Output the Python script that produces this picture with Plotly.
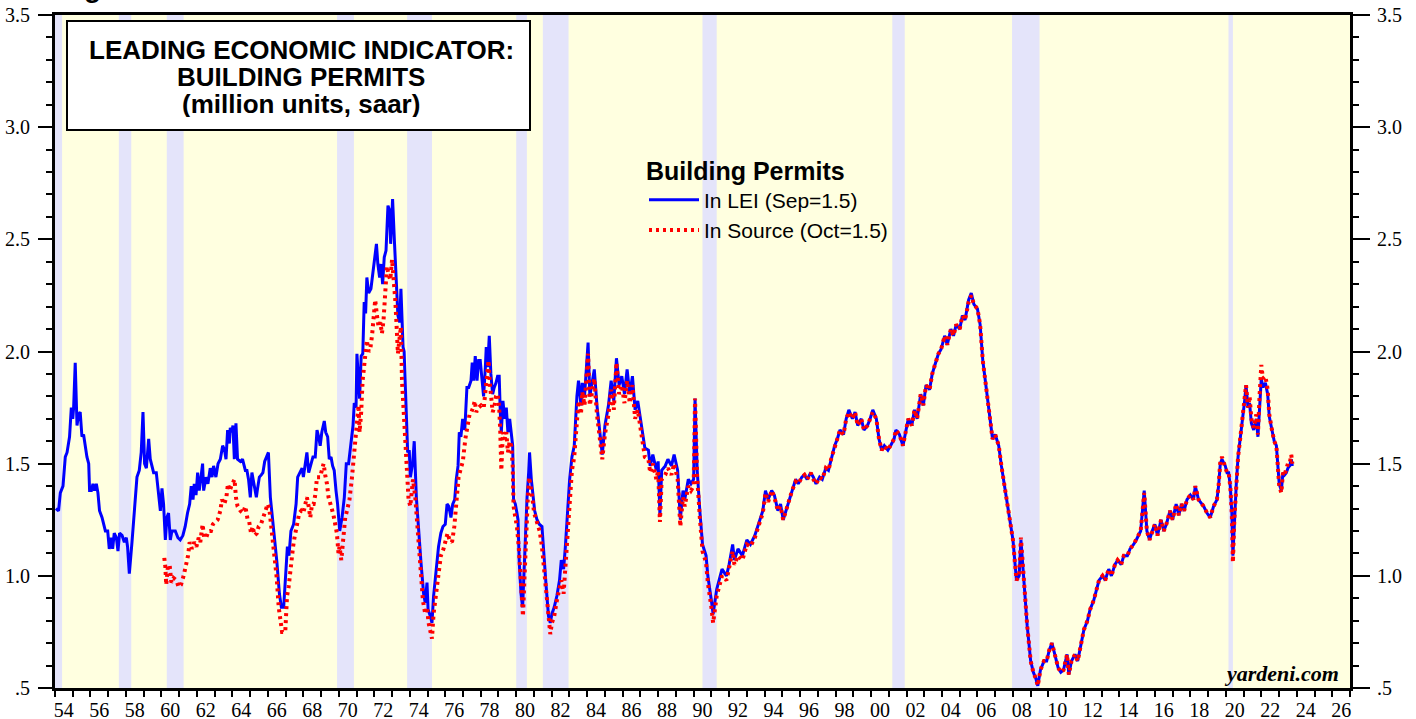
import plotly.graph_objects as go

# ---------------- DATA ----------------
# Building permits, "In LEI" series, 1954-1983 (decimal years, million units saar)
lei_dates_a = [1954.05, 1954.2, 1954.3, 1954.45, 1954.58, 1954.68, 1954.82, 1954.92, 1955.0, 1955.05,
    1955.14, 1955.24, 1955.33, 1955.42, 1955.52, 1955.61, 1955.8, 1955.9, 1955.95, 1956.05,
    1956.14, 1956.23, 1956.33, 1956.42, 1956.51, 1956.65, 1956.84, 1956.97, 1957.06, 1957.16,
    1957.25, 1957.34, 1957.46, 1957.55, 1957.64, 1957.78, 1957.91, 1958.02, 1958.09, 1958.19,
    1958.34, 1958.49, 1958.62, 1958.75, 1958.86, 1958.96, 1959.05, 1959.15, 1959.28, 1959.37,
    1959.56, 1959.71, 1959.84, 1959.94, 1960.03, 1960.12, 1960.22, 1960.31, 1960.4, 1960.5,
    1960.59, 1960.78, 1960.93, 1961.06, 1961.21, 1961.34, 1961.47, 1961.59, 1961.68, 1961.78,
    1961.85, 1961.95, 1962.04, 1962.13, 1962.23, 1962.32, 1962.38, 1962.51, 1962.62, 1962.75,
    1962.85, 1962.94, 1963.07, 1963.19, 1963.32, 1963.45, 1963.56, 1963.64, 1963.73, 1963.83,
    1963.88, 1963.97, 1964.03, 1964.11, 1964.2, 1964.29, 1964.45, 1964.57, 1964.73, 1964.82,
    1964.91, 1965.01, 1965.1, 1965.23, 1965.35, 1965.42, 1965.52, 1965.63, 1965.72, 1965.82,
    1965.95, 1966.03, 1966.14, 1966.27, 1966.38, 1966.51, 1966.65, 1966.76, 1966.89, 1966.98,
    1967.1, 1967.19, 1967.3, 1967.45, 1967.59, 1967.68, 1967.79, 1967.93, 1968.0, 1968.11,
    1968.2, 1968.3, 1968.42, 1968.54, 1968.67, 1968.77, 1968.86, 1968.95, 1969.04, 1969.18,
    1969.26, 1969.37, 1969.46, 1969.56, 1969.65, 1969.74, 1969.84, 1969.93, 1970.05, 1970.18,
    1970.31, 1970.42, 1970.55, 1970.69, 1970.8, 1970.87, 1970.97, 1971.02, 1971.1, 1971.17,
    1971.26, 1971.35, 1971.43, 1971.51, 1971.58, 1971.68, 1971.81, 1971.93, 1972.02, 1972.12,
    1972.2, 1972.3, 1972.38, 1972.47, 1972.56, 1972.66, 1972.77, 1972.86, 1972.92, 1973.03,
    1973.14, 1973.24, 1973.33, 1973.43, 1973.5, 1973.62, 1973.68, 1973.8, 1973.88, 1973.97,
    1974.03, 1974.16, 1974.25, 1974.37, 1974.5, 1974.63, 1974.78, 1974.87, 1974.97, 1975.03,
    1975.16, 1975.25, 1975.34, 1975.49, 1975.62, 1975.75, 1975.87, 1976.0, 1976.1, 1976.2,
    1976.32, 1976.42, 1976.53, 1976.62, 1976.72, 1976.79, 1976.88, 1976.98, 1977.1, 1977.22,
    1977.32, 1977.45, 1977.52, 1977.6, 1977.69, 1977.79, 1977.88, 1977.97, 1978.07, 1978.16,
    1978.26, 1978.31, 1978.39, 1978.48, 1978.57, 1978.67, 1978.76, 1978.86, 1978.95, 1979.04,
    1979.1, 1979.16, 1979.25, 1979.35, 1979.44, 1979.53, 1979.63, 1979.72, 1979.8, 1979.85,
    1979.95, 1980.04, 1980.1, 1980.17, 1980.27, 1980.36, 1980.42, 1980.52, 1980.61, 1980.7,
    1980.75, 1980.85, 1980.94, 1981.04, 1981.17, 1981.3, 1981.45, 1981.54, 1981.69, 1981.82,
    1981.92, 1982.01, 1982.14, 1982.29, 1982.44, 1982.54, 1982.67, 1982.77, 1982.9, 1983.01,
    1983.14, 1983.27, 1983.42, 1983.51]
lei_vals_a = [1.30, 1.29, 1.37, 1.40, 1.53, 1.55, 1.62, 1.75, 1.70, 1.75,
    1.95, 1.67, 1.72, 1.73, 1.62, 1.63, 1.53, 1.50, 1.38, 1.38,
    1.41, 1.38, 1.41, 1.37, 1.29, 1.26, 1.20, 1.20, 1.12, 1.17,
    1.12, 1.19, 1.17, 1.11, 1.19, 1.18, 1.15, 1.17, 1.13, 1.01,
    1.15, 1.31, 1.44, 1.47, 1.55, 1.73, 1.50, 1.48, 1.61, 1.52,
    1.46, 1.46, 1.37, 1.29, 1.39, 1.32, 1.16, 1.26, 1.28, 1.16,
    1.20, 1.20, 1.17, 1.16, 1.18, 1.22, 1.28, 1.32, 1.40, 1.34,
    1.41, 1.36, 1.46, 1.38, 1.44, 1.50, 1.38, 1.44, 1.41, 1.48,
    1.44, 1.49, 1.44, 1.50, 1.52, 1.58, 1.56, 1.52, 1.65, 1.59,
    1.66, 1.64, 1.67, 1.52, 1.68, 1.52, 1.51, 1.52, 1.47, 1.47,
    1.43, 1.35, 1.46, 1.40, 1.35, 1.39, 1.44, 1.45, 1.46, 1.51,
    1.54, 1.55, 1.35, 1.25, 1.15, 1.06, 0.92, 0.86, 0.86, 0.97,
    1.13, 1.09, 1.20, 1.23, 1.32, 1.44, 1.46, 1.48, 1.44, 1.50,
    1.55, 1.46, 1.49, 1.53, 1.53, 1.65, 1.62, 1.58, 1.64, 1.69,
    1.64, 1.62, 1.52, 1.53, 1.49, 1.47, 1.38, 1.32, 1.20, 1.26,
    1.35, 1.50, 1.50, 1.61, 1.67, 1.77, 1.75, 1.99, 1.90, 1.79,
    1.98, 1.99, 2.22, 2.17, 2.33, 2.26, 2.28, 2.36, 2.41, 2.48,
    2.39, 2.33, 2.39, 2.30, 2.42, 2.45, 2.65, 2.63, 2.48, 2.68,
    2.48, 2.28, 2.16, 2.13, 2.28, 2.02, 2.00, 1.73, 1.55, 1.56,
    1.44, 1.50, 1.60, 1.35, 1.19, 1.06, 0.92, 0.88, 0.97, 0.85,
    0.82, 0.79, 0.91, 1.03, 1.13, 1.19, 1.22, 1.23, 1.32, 1.31,
    1.26, 1.32, 1.34, 1.43, 1.49, 1.64, 1.62, 1.70, 1.65, 1.84,
    1.84, 1.87, 1.95, 1.87, 1.98, 1.87, 1.96, 1.96, 1.86, 1.80,
    1.93, 2.02, 1.93, 2.07, 1.90, 1.81, 1.84, 1.86, 1.89, 1.89,
    1.73, 1.64, 1.78, 1.70, 1.75, 1.64, 1.70, 1.64, 1.58, 1.34,
    1.32, 1.28, 1.25, 1.06, 0.92, 0.86, 0.98, 1.19, 1.35, 1.46,
    1.55, 1.43, 1.35, 1.29, 1.25, 1.23, 1.22, 1.10, 0.95, 0.82,
    0.79, 0.83, 0.86, 0.91, 0.98, 1.07, 1.03, 1.13, 1.28, 1.43,
    1.53, 1.58, 1.80, 1.87]

# "In Source" series, 1960-1983
src_dates_a = [1960.16, 1960.22, 1960.27, 1960.35, 1960.46, 1960.56, 1960.69, 1960.84, 1960.97, 1961.1,
    1961.25, 1961.38, 1961.5, 1961.59, 1961.72, 1961.85, 1961.97, 1962.1, 1962.19, 1962.32,
    1962.41, 1962.52, 1962.66, 1962.79, 1962.9, 1963.03, 1963.17, 1963.32, 1963.41, 1963.54,
    1963.66, 1963.75, 1963.85, 1963.94, 1964.03, 1964.12, 1964.2, 1964.29, 1964.45, 1964.6,
    1964.73, 1964.86, 1964.95, 1965.05, 1965.14, 1965.25, 1965.38, 1965.48, 1965.61, 1965.73,
    1965.86, 1965.99, 1966.08, 1966.17, 1966.27, 1966.38, 1966.5, 1966.61, 1966.7, 1966.8,
    1966.98, 1967.08, 1967.17, 1967.3, 1967.42, 1967.5, 1967.64, 1967.77, 1967.88, 1968.0,
    1968.11, 1968.2, 1968.3, 1968.39, 1968.49, 1968.58, 1968.67, 1968.77, 1968.86, 1968.95,
    1969.04, 1969.14, 1969.23, 1969.33, 1969.42, 1969.51, 1969.6, 1969.7, 1969.79, 1969.89,
    1969.98, 1970.04, 1970.14, 1970.27, 1970.36, 1970.46, 1970.6, 1970.73, 1970.83, 1970.92,
    1971.02, 1971.11, 1971.17, 1971.26, 1971.34, 1971.4, 1971.49, 1971.58, 1971.68, 1971.77,
    1971.87, 1971.96, 1972.05, 1972.15, 1972.24, 1972.34, 1972.43, 1972.52, 1972.62, 1972.71,
    1972.81, 1972.9, 1973.0, 1973.09, 1973.18, 1973.24, 1973.33, 1973.41, 1973.5, 1973.56,
    1973.65, 1973.75, 1973.84, 1973.93, 1974.03, 1974.18, 1974.31, 1974.4, 1974.5, 1974.59,
    1974.74, 1974.87, 1974.97, 1975.06, 1975.16, 1975.25, 1975.34, 1975.49, 1975.62, 1975.75,
    1975.9, 1976.04, 1976.13, 1976.24, 1976.38, 1976.51, 1976.62, 1976.75, 1976.88, 1976.99,
    1977.13, 1977.26, 1977.37, 1977.47, 1977.57, 1977.66, 1977.75, 1977.88, 1978.02, 1978.17,
    1978.26, 1978.35, 1978.44, 1978.5, 1978.57, 1978.67, 1978.76, 1978.86, 1978.95, 1979.04,
    1979.1, 1979.16, 1979.25, 1979.35, 1979.44, 1979.53, 1979.63, 1979.72, 1979.8, 1979.85,
    1979.95, 1980.04, 1980.14, 1980.23, 1980.32, 1980.38, 1980.46, 1980.55, 1980.65, 1980.73,
    1980.82, 1980.92, 1981.01, 1981.17, 1981.32, 1981.45, 1981.58, 1981.73, 1981.82, 1981.92,
    1982.01, 1982.14, 1982.29, 1982.44, 1982.54, 1982.67, 1982.77, 1982.9, 1983.01, 1983.14,
    1983.27, 1983.42, 1983.51]
src_vals_a = [1.08, 1.04, 0.96, 1.03, 1.05, 0.97, 0.99, 0.98, 0.95, 0.96,
    1.00, 1.04, 1.09, 1.15, 1.12, 1.15, 1.13, 1.17, 1.15, 1.23,
    1.17, 1.17, 1.20, 1.20, 1.23, 1.24, 1.25, 1.29, 1.34, 1.32,
    1.35, 1.41, 1.38, 1.40, 1.42, 1.43, 1.35, 1.31, 1.29, 1.28,
    1.31, 1.25, 1.24, 1.19, 1.22, 1.18, 1.19, 1.22, 1.23, 1.26,
    1.30, 1.32, 1.30, 1.23, 1.17, 1.09, 0.99, 0.86, 0.79, 0.75,
    0.75, 0.91, 0.95, 1.06, 1.13, 1.17, 1.23, 1.28, 1.29, 1.28,
    1.32, 1.35, 1.31, 1.26, 1.32, 1.32, 1.36, 1.44, 1.44, 1.44,
    1.47, 1.50, 1.45, 1.41, 1.35, 1.33, 1.30, 1.27, 1.23, 1.19,
    1.10, 1.13, 1.07, 1.16, 1.26, 1.29, 1.34, 1.43, 1.53, 1.58,
    1.70, 1.76, 1.64, 1.73, 1.87, 1.92, 1.96, 2.05, 2.00, 2.01,
    2.07, 2.14, 2.23, 2.16, 2.11, 2.13, 2.08, 2.14, 2.26, 2.38,
    2.34, 2.32, 2.41, 2.34, 2.23, 2.14, 1.99, 2.05, 2.11, 1.87,
    1.73, 1.58, 1.43, 1.34, 1.31, 1.43, 1.35, 1.25, 1.13, 1.01,
    0.89, 0.83, 0.86, 0.79, 0.74, 0.72, 0.83, 0.94, 1.01, 1.09,
    1.12, 1.16, 1.19, 1.16, 1.15, 1.22, 1.31, 1.44, 1.48, 1.51,
    1.61, 1.67, 1.72, 1.73, 1.75, 1.78, 1.73, 1.75, 1.76, 1.75,
    1.83, 1.93, 1.96, 1.87, 1.80, 1.73, 1.75, 1.80, 1.81, 1.75,
    1.64, 1.47, 1.64, 1.61, 1.64, 1.55, 1.60, 1.58, 1.49, 1.31,
    1.26, 1.22, 1.13, 0.98, 0.86, 0.82, 0.98, 1.19, 1.34, 1.44,
    1.40, 1.34, 1.28, 1.23, 1.20, 1.13, 1.01, 0.89, 0.80, 0.74,
    0.79, 0.82, 0.89, 0.94, 0.98, 0.92, 1.04, 1.20, 1.35, 1.47,
    1.53, 1.73, 1.78]

# 1983-2023: shared dates, separate values for both series
dates_b = [1983.65, 1983.72, 1983.85, 1983.95, 1984.05, 1984.15, 1984.3, 1984.4, 1984.55, 1984.7,
    1984.85, 1985.0, 1985.2, 1985.35, 1985.5, 1985.65, 1985.8, 1985.95, 1986.1, 1986.25,
    1986.4, 1986.55, 1986.7, 1986.85, 1987.0, 1987.25, 1987.45, 1987.55, 1987.7, 1987.9,
    1988.0, 1988.1, 1988.2, 1988.4, 1988.55, 1988.75, 1988.9, 1989.1, 1989.25, 1989.4,
    1989.5, 1989.7, 1989.85, 1990.0, 1990.08, 1990.2, 1990.35, 1990.5, 1990.7, 1990.8,
    1991.0, 1991.1, 1991.3, 1991.45, 1991.6, 1991.85, 1992.0, 1992.2, 1992.3, 1992.5,
    1992.75, 1993.0, 1993.2, 1993.45, 1993.65, 1993.9, 1994.05, 1994.2, 1994.4, 1994.55,
    1994.75, 1994.9, 1995.05, 1995.2, 1995.4, 1995.55, 1995.75, 1995.9, 1996.1, 1996.25,
    1996.4, 1996.6, 1996.75, 1996.9, 1997.1, 1997.25, 1997.45, 1997.6, 1997.75, 1997.95,
    1998.1, 1998.25, 1998.45, 1998.6, 1998.75, 1998.95, 1999.1, 1999.25, 1999.45, 1999.6,
    1999.8, 1999.95, 2000.1, 2000.3, 2000.45, 2000.6, 2000.75, 2000.95, 2001.1, 2001.3,
    2001.4, 2001.6, 2001.8, 2001.95, 2002.1, 2002.3, 2002.45, 2002.6, 2002.8, 2002.95,
    2003.1, 2003.3, 2003.45, 2003.6, 2003.8, 2003.95, 2004.15, 2004.3, 2004.5, 2004.65,
    2004.8, 2005.0, 2005.15, 2005.3, 2005.5, 2005.65, 2005.8, 2006.0, 2006.15, 2006.3,
    2006.5, 2006.7, 2006.85, 2007.0, 2007.2, 2007.35, 2007.5, 2007.7, 2007.85, 2008.0,
    2008.2, 2008.35, 2008.45, 2008.65, 2008.8, 2009.0, 2009.15, 2009.3, 2009.4, 2009.55,
    2009.75, 2009.9, 2010.05, 2010.2, 2010.35, 2010.55, 2010.7, 2010.85, 2011.05, 2011.15,
    2011.3, 2011.5, 2011.65, 2011.85, 2012.0, 2012.2, 2012.35, 2012.55, 2012.7, 2012.85,
    2013.05, 2013.2, 2013.4, 2013.55, 2013.75, 2013.9, 2014.1, 2014.25, 2014.45, 2014.6,
    2014.8, 2014.95, 2015.2, 2015.4, 2015.55, 2015.7, 2015.85, 2016.0, 2016.15, 2016.35,
    2016.5, 2016.65, 2016.85, 2017.0, 2017.2, 2017.35, 2017.5, 2017.65, 2017.81, 2018.0,
    2018.18, 2018.28, 2018.46, 2018.75, 2018.94, 2019.12, 2019.31, 2019.5, 2019.59, 2019.69,
    2019.78, 2019.88, 2019.97, 2020.07, 2020.16, 2020.25, 2020.34, 2020.4, 2020.48, 2020.59,
    2020.69, 2020.78, 2020.87, 2020.97, 2021.06, 2021.14, 2021.25, 2021.34, 2021.44, 2021.57,
    2021.72, 2021.81, 2021.9, 2022.0, 2022.09, 2022.23, 2022.36, 2022.45, 2022.6, 2022.73,
    2022.85, 2022.94, 2023.01, 2023.13, 2023.22, 2023.31, 2023.41, 2023.5, 2023.6, 2023.69,
    2023.75]
lei_vals_b = [1.76, 1.86, 1.80, 1.90, 2.04, 1.80, 1.88, 1.92, 1.76, 1.65,
    1.54, 1.67, 1.76, 1.87, 1.78, 1.97, 1.85, 1.89, 1.81, 1.92,
    1.81, 1.89, 1.74, 1.78, 1.70, 1.57, 1.56, 1.49, 1.54, 1.47,
    1.51, 1.27, 1.47, 1.49, 1.52, 1.49, 1.54, 1.47, 1.25, 1.38,
    1.34, 1.43, 1.41, 1.43, 1.79, 1.47, 1.29, 1.14, 1.09, 1.00,
    0.89, 0.83, 0.94, 0.98, 1.03, 1.00, 1.05, 1.14, 1.07, 1.12,
    1.09, 1.16, 1.14, 1.18, 1.23, 1.29, 1.38, 1.34, 1.38, 1.36,
    1.29, 1.32, 1.25, 1.29, 1.34, 1.38, 1.43, 1.41, 1.44, 1.45,
    1.43, 1.46, 1.44, 1.41, 1.44, 1.43, 1.48, 1.47, 1.52, 1.58,
    1.61, 1.65, 1.63, 1.70, 1.74, 1.70, 1.73, 1.67, 1.70, 1.65,
    1.67, 1.70, 1.74, 1.70, 1.61, 1.56, 1.58, 1.56, 1.58, 1.61,
    1.65, 1.63, 1.58, 1.65, 1.70, 1.67, 1.74, 1.70, 1.81, 1.76,
    1.85, 1.83, 1.90, 1.94, 1.99, 2.01, 2.07, 2.03, 2.10, 2.07,
    2.12, 2.10, 2.16, 2.14, 2.23, 2.26, 2.21, 2.19, 2.12, 1.96,
    1.83, 1.70, 1.61, 1.63, 1.58, 1.49, 1.41, 1.32, 1.23, 1.16,
    0.98, 1.00, 1.16, 0.94, 0.78, 0.62, 0.57, 0.54, 0.51, 0.58,
    0.62, 0.62, 0.67, 0.70, 0.65, 0.59, 0.57, 0.58, 0.65, 0.56,
    0.62, 0.65, 0.62, 0.71, 0.76, 0.80, 0.85, 0.89, 0.94, 0.98,
    1.00, 0.98, 1.03, 1.00, 1.05, 1.07, 1.05, 1.09, 1.09, 1.12,
    1.14, 1.16, 1.20, 1.38, 1.20, 1.16, 1.20, 1.23, 1.18, 1.25,
    1.20, 1.23, 1.29, 1.25, 1.32, 1.27, 1.32, 1.29, 1.34, 1.36,
    1.34, 1.40, 1.34, 1.31, 1.28, 1.26, 1.31, 1.34, 1.40, 1.50,
    1.52, 1.50, 1.49, 1.46, 1.46, 1.40, 1.28, 1.09, 1.25, 1.41,
    1.53, 1.59, 1.64, 1.73, 1.78, 1.85, 1.75, 1.77, 1.68, 1.65,
    1.70, 1.62, 1.77, 1.88, 1.84, 1.86, 1.81, 1.71, 1.65, 1.60,
    1.58, 1.47, 1.41, 1.38, 1.46, 1.45, 1.46, 1.48, 1.49, 1.52,
    1.49]
src_vals_b = [1.72, 1.82, 1.76, 1.86, 1.99, 1.76, 1.84, 1.88, 1.72, 1.61,
    1.52, 1.63, 1.72, 1.83, 1.74, 1.95, 1.81, 1.85, 1.77, 1.87,
    1.77, 1.85, 1.70, 1.74, 1.66, 1.53, 1.52, 1.46, 1.50, 1.43,
    1.47, 1.24, 1.43, 1.45, 1.48, 1.45, 1.50, 1.43, 1.22, 1.35,
    1.31, 1.40, 1.38, 1.40, 1.79, 1.44, 1.26, 1.11, 1.06, 0.97,
    0.86, 0.79, 0.91, 0.95, 1.00, 0.98, 1.03, 1.11, 1.05, 1.09,
    1.07, 1.14, 1.13, 1.17, 1.22, 1.28, 1.37, 1.33, 1.38, 1.35,
    1.29, 1.31, 1.25, 1.29, 1.33, 1.38, 1.42, 1.41, 1.44, 1.45,
    1.43, 1.46, 1.43, 1.41, 1.44, 1.43, 1.48, 1.47, 1.52, 1.57,
    1.61, 1.65, 1.63, 1.70, 1.73, 1.70, 1.73, 1.67, 1.70, 1.65,
    1.67, 1.70, 1.73, 1.70, 1.61, 1.56, 1.58, 1.56, 1.58, 1.61,
    1.65, 1.63, 1.58, 1.65, 1.70, 1.67, 1.74, 1.70, 1.81, 1.76,
    1.85, 1.83, 1.90, 1.94, 1.99, 2.01, 2.07, 2.03, 2.10, 2.07,
    2.12, 2.10, 2.16, 2.14, 2.22, 2.25, 2.21, 2.19, 2.12, 1.96,
    1.83, 1.70, 1.61, 1.63, 1.58, 1.49, 1.41, 1.32, 1.23, 1.16,
    0.98, 1.00, 1.17, 0.94, 0.78, 0.62, 0.57, 0.54, 0.51, 0.58,
    0.62, 0.62, 0.67, 0.70, 0.65, 0.59, 0.57, 0.58, 0.65, 0.56,
    0.62, 0.65, 0.62, 0.71, 0.76, 0.80, 0.85, 0.89, 0.94, 0.98,
    1.00, 0.98, 1.03, 1.00, 1.05, 1.07, 1.05, 1.09, 1.09, 1.12,
    1.14, 1.16, 1.20, 1.37, 1.20, 1.16, 1.20, 1.23, 1.18, 1.25,
    1.20, 1.23, 1.29, 1.25, 1.32, 1.27, 1.32, 1.29, 1.34, 1.36,
    1.34, 1.40, 1.34, 1.31, 1.28, 1.26, 1.31, 1.34, 1.40, 1.51,
    1.53, 1.50, 1.49, 1.46, 1.46, 1.40, 1.27, 1.06, 1.25, 1.41,
    1.53, 1.59, 1.65, 1.75, 1.79, 1.85, 1.75, 1.80, 1.70, 1.66,
    1.72, 1.63, 1.80, 1.94, 1.88, 1.89, 1.83, 1.72, 1.65, 1.60,
    1.58, 1.47, 1.40, 1.37, 1.46, 1.45, 1.48, 1.50, 1.50, 1.54,
    1.50]

# NBER recessions (shaded)
rec_start = [1953.5, 1957.6, 1960.3, 1969.9, 1973.85, 1980.0, 1981.5, 1990.5, 2001.2, 2007.95, 2020.15]
rec_end = [1954.4, 1958.3, 1961.25, 1970.85, 1975.25, 1980.6, 1982.95, 1991.3, 2001.9, 2009.5, 2020.4]

# axis ticks and labels
year_ticks = list(range(1954, 2028))
label_years = list(range(1954, 2027, 2))
x_labels = ["54", "56", "58", "60", "62", "64", "66", "68", "70", "72", "74", "76", "78",
            "80", "82", "84", "86", "88", "90", "92", "94", "96", "98", "00", "02", "04",
            "06", "08", "10", "12", "14", "16", "18", "20", "22", "24", "26"]
y_ticks = [0.5, 1.0, 1.5, 2.0, 2.5, 3.0, 3.5]
y_labels = [".5", "1.0", "1.5", "2.0", "2.5", "3.0", "3.5"]

title_lines = ["LEADING ECONOMIC INDICATOR:", "BUILDING PERMITS", "(million units, saar)"]
legend_title = "Building Permits"
name_lei = "In LEI (Sep=1.5)"
name_src = "In Source (Oct=1.5)"

# ---------------- FIGURE ----------------
W, H = 1416, 719
ML, MR, MT, MB = 55, 66, 15, 31
PW, PH = W - ML - MR, H - MT - MB

def px_x(p):
    return (p - ML) / PW

def px_y(p):
    return (H - MB - p) / PH

fig = go.Figure()
fig.add_trace(go.Scatter(x=lei_dates_a + dates_b, y=lei_vals_a + lei_vals_b, mode="lines",
                         name=name_lei, line=dict(color="#0000FF", width=3),
                         xaxis="x", yaxis="y"))
fig.add_trace(go.Scatter(x=src_dates_a + dates_b, y=src_vals_a + src_vals_b, mode="lines",
                         name=name_src, line=dict(color="#FF0000", width=4, dash="3px,4px"),
                         xaxis="x2", yaxis="y2"))

shapes = []
for s, e in zip(rec_start, rec_end):
    shapes.append(dict(type="rect", xref="x", yref="paper", x0=s, x1=e, y0=0, y1=1,
                       fillcolor="#E4E4FA", line=dict(width=0), layer="below"))
# title box
shapes.append(dict(type="rect", xref="paper", yref="paper",
                   x0=px_x(67), x1=px_x(530), y0=px_y(130), y1=px_y(21),
                   fillcolor="white", line=dict(color="black", width=2), layer="above"))

annotations = []
for txt, ypx in zip(title_lines, [50, 77, 104]):
    annotations.append(dict(text="<b>" + txt + "</b>", xref="paper", yref="paper",
                            x=px_x(301), y=px_y(ypx), xanchor="center", yanchor="middle",
                            showarrow=False, height=26,
                            font=dict(family="Liberation Sans", size=26, color="black")))
annotations.append(dict(text="<b><i>yardeni.com</i></b>", xref="paper", yref="paper",
                        x=px_x(1341), y=px_y(673), xanchor="right", yanchor="middle",
                        showarrow=False,
                        font=dict(family="Liberation Serif", size=22, color="black")))
annotations.append(dict(text="<b>Figure 1.</b>", xref="paper", yref="paper",
                        x=px_x(57), y=px_y(5), xanchor="left", yanchor="bottom",
                        showarrow=False,
                        font=dict(family="Liberation Sans", size=28, color="black")))

tick_font = dict(family="Liberation Serif, Times New Roman, serif", size=20, color="black")

fig.update_layout(
    width=W, height=H,
    margin=dict(l=ML, r=MR, t=MT, b=MB, pad=0, autoexpand=False),
    paper_bgcolor="white", plot_bgcolor="#FFFFE0",
    showlegend=True,
    legend=dict(x=px_x(644), y=px_y(147), xanchor="left", yanchor="top",
                bgcolor="rgba(0,0,0,0)", borderwidth=0, itemwidth=50,
                font=dict(family="Liberation Sans", size=21, color="black"),
                title=dict(text="<b>" + legend_title + "</b>",
                           font=dict(family="Liberation Sans", size=25, color="black")),
                tracegroupgap=0),
    hovermode=False,
    shapes=shapes,
    annotations=annotations,
    xaxis=dict(range=[1954, 2027], tickmode="array", tickvals=year_ticks,
               showticklabels=False, ticks="outside", ticklen=6, tickwidth=2,
               tickcolor="black", showline=True, linewidth=3, linecolor="black",
               mirror=True, showgrid=False, zeroline=False, automargin=False),
    xaxis2=dict(range=[1954, 2027], overlaying="x", anchor="y2", side="bottom",
                tickmode="array", tickvals=[y + 0.5 for y in label_years], ticktext=x_labels,
                ticks="outside", ticklen=4, tickcolor="rgba(0,0,0,0)",
                tickfont=tick_font, showline=False, showgrid=False, zeroline=False,
                automargin=False),
    yaxis=dict(range=[0.5, 3.5], tickmode="array", tickvals=y_ticks, ticktext=y_labels,
               ticks="outside", ticklen=14, tickwidth=2, tickcolor="black",
               minor=dict(dtick=0.1, tick0=0.5, ticks="outside", ticklen=6, tickwidth=2,
                          tickcolor="black", showgrid=False),
               tickfont=tick_font, showline=True, linewidth=3, linecolor="black",
               showgrid=False, zeroline=False, ticklabelstandoff=4, automargin=False),
    yaxis2=dict(range=[0.5, 3.5], overlaying="y", anchor="x2", side="right",
                tickmode="array", tickvals=y_ticks, ticktext=y_labels,
                ticks="outside", ticklen=17, tickwidth=2, tickcolor="black",
                minor=dict(dtick=0.1, tick0=0.5, ticks="outside", ticklen=6, tickwidth=2,
                           tickcolor="black", showgrid=False),
                tickfont=tick_font, showline=True, linewidth=3, linecolor="black",
                showgrid=False, zeroline=False, ticklabelstandoff=3, automargin=False),
)

fig.write_html("out.html", config={"displayModeBar": False},
               post_script="document.body.style.margin='0';document.body.style.overflow='hidden';")
